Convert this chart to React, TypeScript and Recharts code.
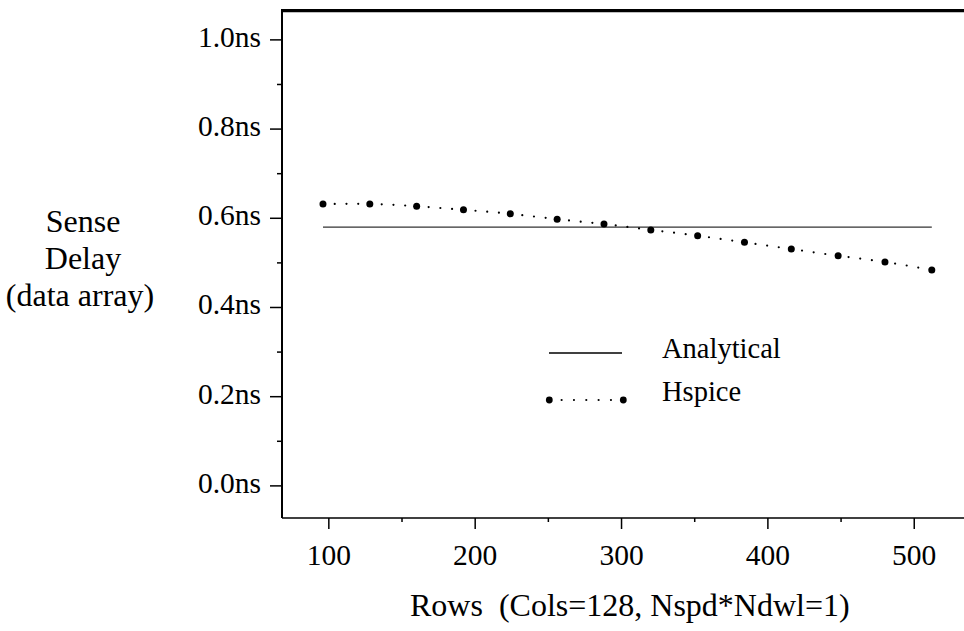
import { Legend, Line, LineChart, ReferenceArea, XAxis, YAxis } from "recharts";

const ROWS = [96, 128, 160, 192, 224, 256, 288, 320, 352, 384, 416, 448, 480, 512];
const HSPICE = [0.632, 0.632, 0.627, 0.619, 0.61, 0.598, 0.587, 0.574, 0.561, 0.546, 0.531, 0.516, 0.502, 0.484];
const ANALYTICAL = [0.58, 0.58, 0.58, 0.58, 0.58, 0.58, 0.58, 0.58, 0.58, 0.58, 0.58, 0.58, 0.58, 0.58];

const X_TICKS = [100, 150, 200, 250, 300, 350, 400, 450, 500];
const X_MAJOR = [100, 200, 300, 400, 500];
const Y_TICKS = [0, 0.1, 0.2, 0.3, 0.4, 0.5, 0.6, 0.7, 0.8, 0.9, 1.0];
const Y_MAJOR = [0, 0.2, 0.4, 0.6, 0.8, 1.0];
const Y_LABELS = ["0.0ns", "0.2ns", "0.4ns", "0.6ns", "0.8ns", "1.0ns"];
const X_DOMAIN = [68, 534];
const Y_DOMAIN = [-0.072, 1.067];

const FONT = "Liberation Serif, Times New Roman, Times, serif";
const txt = { fontFamily: FONT };

const data = ROWS.map((r, i) => ({
  rows: r,
  hspice: HSPICE[i],
  analytical: ANALYTICAL[i]
}));

const YTick = ({ x, y, payload }: any) => {
  const idx = Y_MAJOR.indexOf(payload.value);
  const major = idx >= 0;
  return (
    <g>
      <line x1={x} x2={x - (major ? 12 : 5)} y1={y} y2={y} stroke="#000" strokeWidth={1.5} />
      {major && (
        <text x={x - 21} y={y + 7} textAnchor="end" style={txt} fontSize={29.5} fill="#000">
          {Y_LABELS[idx]}
        </text>
      )}
    </g>
  );
};

const XTick = ({ x, y, payload }: any) => {
  const major = X_MAJOR.includes(payload.value);
  return (
    <g>
      <line x1={x} x2={x} y1={y} y2={y + (major ? 11 : 4)} stroke="#000" strokeWidth={1.5} />
      {major && (
        <text x={x} y={y + 47} textAnchor="middle" style={txt} fontSize={29.5} fill="#000">
          {payload.value}
        </text>
      )}
    </g>
  );
};

const LegendBox = () => (
  <svg width={260} height={90}>
    <line x1={9} x2={82} y1={28} y2={28} stroke="#000" strokeWidth={1.5} />
    <text x={122} y={33} style={txt} fontSize={28.5} fill="#000">
      Analytical
    </text>
    <line
      x1={9.3}
      x2={83.3}
      y1={75}
      y2={75}
      stroke="#000"
      strokeWidth={2.2}
      strokeLinecap="round"
      strokeDasharray="0 12.33"
    />
    <circle cx={9.3} cy={75} r={3.4} fill="#000" />
    <circle cx={83.3} cy={75} r={3.4} fill="#000" />
    <text x={122} y={76} style={txt} fontSize={28.5} fill="#000">
      Hspice
    </text>
  </svg>
);

const BigDot = ({ cx, cy }: any) => <circle cx={cx} cy={cy} r={3.5} fill="#000" />;

export default function App() {
  return (
    <div style={{ position: "absolute", left: 0, top: 0, width: 964, height: 631, background: "#fff", fontFamily: FONT }}>
      <LineChart width={964} height={631} data={data} margin={{ top: 10, right: 0, bottom: 0, left: 0 }}>
        <XAxis
          dataKey="rows"
          type="number"
          domain={X_DOMAIN}
          ticks={X_TICKS}
          interval={0}
          height={113}
          tickSize={0}
          tickMargin={0}
          tickLine={false}
          axisLine={{ stroke: "#000", strokeWidth: 1.5 }}
          tick={<XTick />}
          allowDataOverflow
        />
        <YAxis
          type="number"
          domain={Y_DOMAIN}
          ticks={Y_TICKS}
          interval={0}
          width={282}
          tickSize={0}
          tickMargin={0}
          tickLine={false}
          axisLine={{ stroke: "#000", strokeWidth: 2 }}
          tick={<YTick />}
          allowDataOverflow
        />
        <ReferenceArea y1={1.062} y2={1.067} fill="#000" fillOpacity={1} stroke="none" ifOverflow="visible" />
        <Line
          dataKey="analytical"
          type="linear"
          stroke="#333"
          strokeWidth={1.2}
          dot={false}
          activeDot={false}
          isAnimationActive={false}
        />
        <Line
          dataKey="hspice"
          type="natural"
          stroke="#000"
          strokeWidth={2.2}
          strokeLinecap="round"
          strokeDasharray="0 11.75"
          dot={<BigDot />}
          activeDot={false}
          isAnimationActive={false}
        />
        <Legend
          layout="horizontal"
          verticalAlign="middle"
          align="center"
          content={<LegendBox />}
          wrapperStyle={{ position: "absolute", left: 540, top: 325, width: 260, height: 90 }}
        />
      </LineChart>
      <svg
        width={964}
        height={631}
        style={{ position: "absolute", left: 0, top: 0, pointerEvents: "none" }}
      >
        <rect x={281} y={9} width={683} height={2} fill="#000" />
        <text textAnchor="middle" style={txt} fontSize={32} fill="#000">
          <tspan x={83} y={232}>Sense</tspan>
          <tspan x={83} y={269}>Delay</tspan>
          <tspan x={80} y={306}>(data array)</tspan>
        </text>
        <text x={410} y={616} style={{ ...txt, whiteSpace: "pre" }} fontSize={32} fill="#000">
          {"Rows  (Cols=128, Nspd*Ndwl=1)"}
        </text>
      </svg>
    </div>
  );
}
